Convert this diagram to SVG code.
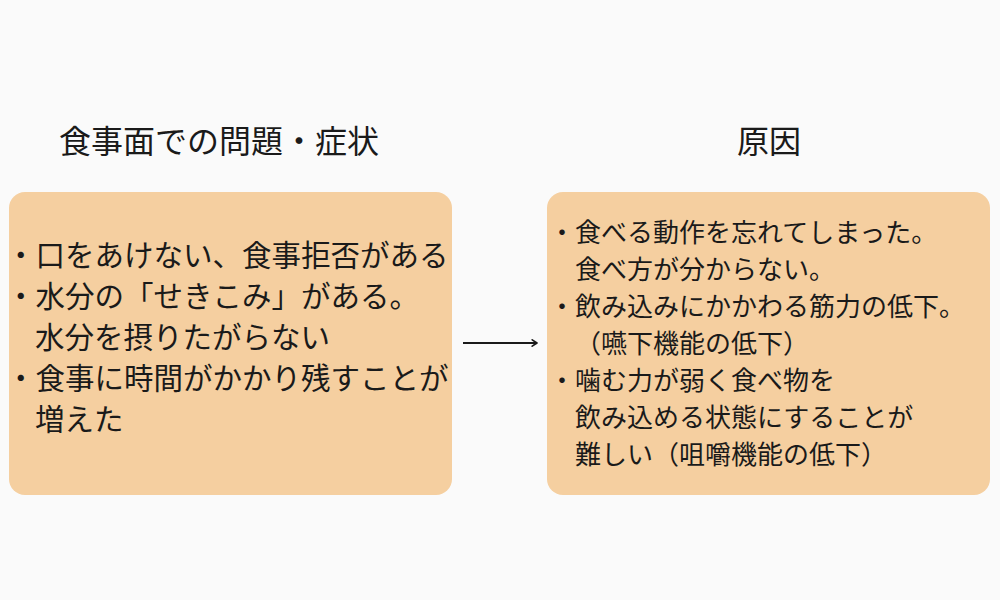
<svg xmlns="http://www.w3.org/2000/svg" width="1000" height="600" viewBox="0 0 1000 600">
<defs>
<style>
text{font-family:"Noto Sans CJK JP","Noto Sans",sans-serif;fill:#1a1a1a}
.t{font-size:32px}
.l{font-size:29.5px}
.r{font-size:26px}
.box{fill:#f5cfa0}
</style>
<marker id="ah" viewBox="0 0 10 10" refX="8" refY="5" markerWidth="8" markerHeight="8" orient="auto" markerUnits="userSpaceOnUse"><path d="M2,1 L8,5 L2,9" fill="none" stroke="#1a1a1a" stroke-width="2" stroke-linecap="round" stroke-linejoin="round"/></marker>
</defs>
<rect width="1000" height="600" fill="#fafafa"/>
<g id="title-left"><text class="t" x="219" y="153" text-anchor="middle">食事面での問題・症状</text></g>
<g id="title-right"><text class="t" x="769" y="153" text-anchor="middle">原因</text></g>
<g id="node-left">
<rect class="box" x="9" y="192" width="443" height="303" rx="16"/>
<text class="l" x="6" y="266">・口をあけない、食事拒否がある</text>
<text class="l" x="6" y="307">・水分の「せきこみ」がある。</text>
<text class="l" x="35" y="348">水分を摂りたがらない</text>
<text class="l" x="6" y="389">・食事に時間がかかり残すことが</text>
<text class="l" x="35" y="430">増えた</text>
</g>
<g id="node-right">
<rect class="box" x="547" y="192" width="443" height="303" rx="16"/>
<text class="r" x="549" y="242">・食べる動作を忘れてしまった。</text>
<text class="r" x="575" y="279">食べ方が分からない。</text>
<text class="r" x="549" y="316">・飲み込みにかかわる筋力の低下。</text>
<text class="r" x="575" y="353">（嚥下機能の低下）</text>
<text class="r" x="549" y="390">・噛む力が弱く食べ物を</text>
<text class="r" x="575" y="427">飲み込める状態にすることが</text>
<text class="r" x="575" y="464">難しい（咀嚼機能の低下）</text>
</g>
<g id="connectors">
<line x1="463" y1="343" x2="537" y2="343" stroke="#1a1a1a" stroke-width="2" marker-end="url(#ah)"/>
</g>
</svg>
